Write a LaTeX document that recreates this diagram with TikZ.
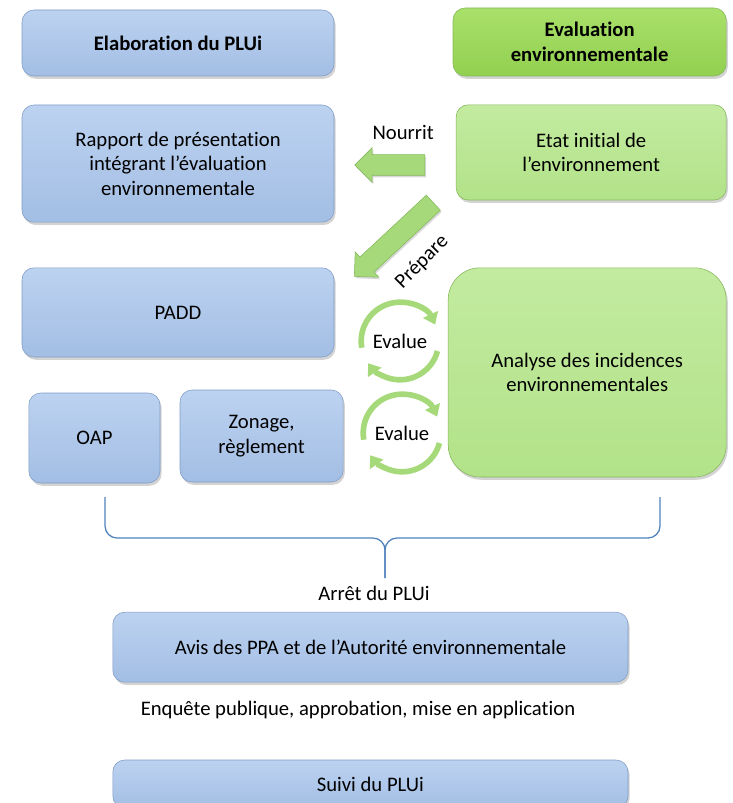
\documentclass[tikz,border=0pt]{standalone}
\usepackage{fontspec}
\setmainfont{Carlito}[Ligatures=NoCommon]
\usetikzlibrary{shapes.arrows,shadows,arrows.meta}

\definecolor{bleu}{HTML}{A3BEE4}
\definecolor{bleuclair}{HTML}{BCD2F0}
\definecolor{bleubord}{HTML}{7F9CC6}
\definecolor{vert}{HTML}{92D050}
\definecolor{verthaut}{HTML}{A9E06A}
\definecolor{vertclair}{HTML}{B2E289}
\definecolor{vertclairhaut}{HTML}{C3EBA0}
\definecolor{vertbord}{HTML}{84B85A}
\definecolor{vertfleche}{HTML}{A6D97A}
\definecolor{accolade}{HTML}{4F81BD}

\tikzset{
  etape/.style={draw=bleubord, rounded corners=0.3cm, top color=bleuclair, bottom color=bleu,
    drop shadow={opacity=0.35, shadow xshift=0.04cm, shadow yshift=-0.07cm},
    align=center, inner sep=0pt, font=\fontsize{14.7}{17.4}\selectfont},
  evaltitre/.style={etape, draw=vertbord, top color=verthaut, bottom color=vert},
  evalbloc/.style={etape, draw=vertbord, top color=vertclairhaut, bottom color=vertclair},
  fleche/.style={single arrow, draw=vertbord, fill=vertfleche, inner xsep=0pt, inner ysep=0.25cm,
    single arrow head extend=0.175cm,
    drop shadow={opacity=0.3, shadow xshift=0.03cm, shadow yshift=-0.05cm}},
  tourne/.style={-{Triangle[width=0.4cm, length=0.28cm]}, line width=4pt, draw=vertfleche},
  texte/.style={font=\fontsize{14.7}{17.4}\selectfont, inner sep=0pt}
}

\begin{document}
\begin{tikzpicture}
\useasboundingbox (0,0) rectangle (18.3,-20.075);

% colonne PLUi
\node[etape, minimum width=7.8cm, minimum height=1.65cm, font=\fontsize{14.7}{17.4}\selectfont\bfseries] (elab) at (4.45,-1.075) {Elaboration du PLUi};
\node[etape, minimum width=7.8cm, minimum height=2.93cm] (rapport) at (4.45,-4.09) {Rapport de présentation\\intégrant l’évaluation\\environnementale};
\node[etape, minimum width=7.8cm, minimum height=2.23cm] (padd) at (4.45,-7.81) {PADD};
\node[etape, minimum width=3.28cm, minimum height=2.25cm] (oap) at (2.36,-10.95) {OAP};
\node[etape, minimum width=4.08cm, minimum height=2.3cm] (zonage) at (6.54,-10.9) {Zonage,\\règlement};

% colonne evaluation
\node[evaltitre, minimum width=6.83cm, minimum height=1.7cm, font=\fontsize{14.7}{17.4}\selectfont\bfseries] (evalenv) at (14.74,-1.05) {Evaluation\\environnementale};
\node[evalbloc, minimum width=6.75cm, minimum height=2.38cm] (etat) at (14.78,-3.81) {Etat initial de\\l’environnement};
\node[evalbloc, rounded corners=0.8cm, minimum width=6.95cm, minimum height=5.23cm] (analyse) at (14.68,-9.31) {Analyse des incidences\\environnementales};

% fleches
\node[texte] (nourrit) at (10.08,-3.3) {Nourrit};
\node[fleche, minimum height=1.75cm, rotate=180] (fnourrit) at (9.875,-4.125) {};
\node[fleche, minimum height=2.7cm, rotate=223] (fprepare) at (9.94,-5.9) {};
\node[texte, rotate=45] (prepare) at (10.55,-6.55) {Prépare};

% evalue
\node[texte] (evalue1) at (10.0,-8.525) {Evalue};
\draw[tourne] ([shift={(190:0.97)}]evalue1.center) arc[start angle=190, end angle=25, radius=0.97];
\draw[tourne] ([shift={(-15:0.97)}]evalue1.center) arc[start angle=-15, end angle=-145, radius=0.97];
\node[texte] (evalue2) at (10.05,-10.825) {Evalue};
\draw[tourne] ([shift={(190:0.97)}]evalue2.center) arc[start angle=190, end angle=25, radius=0.97];
\draw[tourne] ([shift={(-15:0.97)}]evalue2.center) arc[start angle=-15, end angle=-145, radius=0.97];

% accolade
\coordinate (accG) at (2.625,-12.425);
\coordinate (accD) at (16.5,-12.425);
\coordinate (accP) at (9.625,-14.45);
\draw[accolade, line width=0.9pt, rounded corners=0.3cm] (accG) |- ([yshift=1cm]accP) -- (accP);
\draw[accolade, line width=0.9pt, rounded corners=0.3cm] (accD) |- ([yshift=1cm]accP) -- (accP);

\node[texte] (arret) at (9.35,-14.83) {Arrêt du PLUi};
\node[etape, minimum width=12.88cm, minimum height=1.75cm] (avis) at (9.26,-16.18) {Avis des PPA et de l’Autorité environnementale};
\node[texte] (enquete) at (8.95,-17.75) {Enquête publique, approbation, mise en application};
\node[etape, minimum width=12.88cm, minimum height=1.2cm] (suivi) at (9.26,-19.6) {Suivi du PLUi};

\end{tikzpicture}
\end{document}
